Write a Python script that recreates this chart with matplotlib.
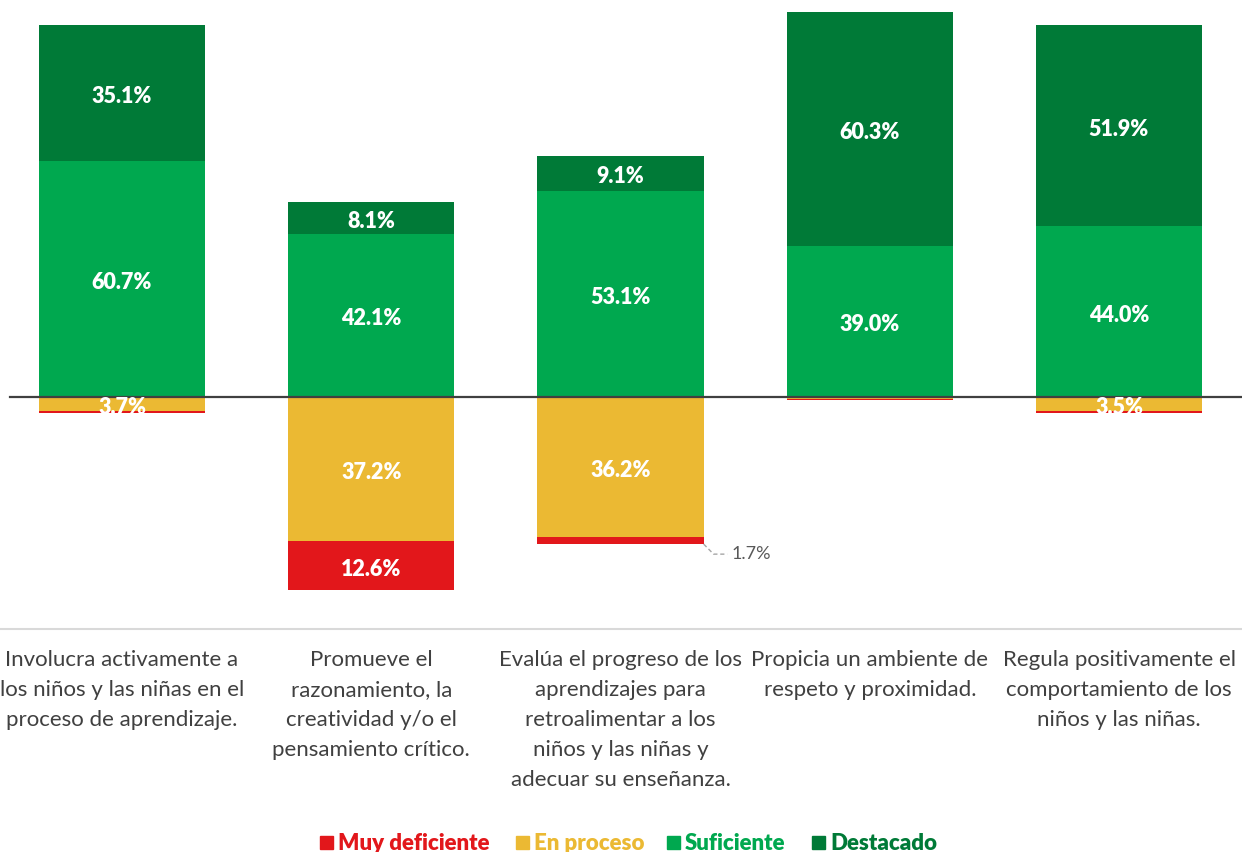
import numpy as np
import matplotlib.pyplot as plt
from matplotlib.lines import Line2D
from matplotlib.patches import Rectangle

categorias = ["Involucra activamente a\nlos niños y las niñas en el\nproceso de aprendizaje.",
              "Promueve el\nrazonamiento, la\ncreatividad y/o el\npensamiento crítico.",
              "Evalúa el progreso de los\naprendizajes para\nretroalimentar a los\nniños y las niñas y\nadecuar su enseñanza.",
              "Propicia un ambiente de\nrespeto y proximidad.",
              "Regula positivamente el\ncomportamiento de los\nniños y las niñas."]
muy_deficiente = [0.5, 12.6, 1.7, 0.2, 0.6]
en_proceso = [3.7, 37.2, 36.2, 0.5, 3.5]
suficiente = [60.7, 42.1, 53.1, 39.0, 44.0]
destacado = [35.1, 8.1, 9.1, 60.3, 51.9]

c_rojo = "#E2171B"
c_amar = "#EBB933"
c_verde = "#00A84F"
c_oscuro = "#007A37"

plt.rcParams['font.family'] = ['Lato', 'DejaVu Sans']

fig = plt.figure(figsize=(12.42, 8.52), dpi=100)
ax = fig.add_axes([-2.6 / 1242, 1 - 600 / 852, 1246.2 / 1242, 595 / 852])

x = np.arange(len(categorias))
w = 0.667
md = np.array(muy_deficiente)
ep = np.array(en_proceso)
su = np.array(suficiente)
de = np.array(destacado)

ax.bar(x, su, w, color=c_verde)
ax.bar(x, de, w, bottom=su, color=c_oscuro)
ax.bar(x, -ep, w, color=c_amar)
ax.bar(x, -md, w, bottom=-ep, color=c_rojo)

lbl = dict(ha="center", va="center", color="white", fontsize=15.5, fontweight="heavy")
dy = 0.9  # pequeño ajuste vertical de las etiquetas
for i in range(len(x)):
    ax.text(x[i], su[i] / 2 - dy, f"{su[i]:.1f}%", **lbl)
    ax.text(x[i], su[i] + de[i] / 2 - dy, f"{de[i]:.1f}%", **lbl)
    if ep[i] >= 3:
        ax.text(x[i], -ep[i] / 2 - 0.9, f"{ep[i]:.1f}%", **lbl)
    if md[i] >= 5:
        ax.text(x[i], -ep[i] - md[i] / 2 - dy, f"{md[i]:.1f}%", **lbl)

# etiqueta externa de 1.7%
i = 2
y0 = -ep[i] - md[i]
ax.plot([x[i] + w / 2, x[i] + w / 2 + 0.04, x[i] + w / 2 + 0.095],
        [y0, y0 - 2.6, y0 - 2.6], color="#a6a6a6", lw=1, ls=(0, (3, 2)))
ax.text(x[i] + w / 2 + 0.11, y0 - 2.6, f"{md[i]:.1f}%", ha="left", va="center",
        color="#595959", fontsize=13)

ax.axhline(0, xmin=12.6 / 1246.2, xmax=1, color="#404040", lw=1.6)
ax.set_xlim(-0.5, 4.5)
ax.set_ylim(-(600 - 397) / 3.88, (397 - 5) / 3.88)
ax.axis("off")

fig.add_artist(Line2D([0, 1], [1 - 629 / 852, 1 - 629 / 852], color="#d9d9d9", lw=1.5))

for i, c in enumerate(categorias):
    xf = (122 + 249.3 * i) / 1242
    fig.text(xf, 1 - 650 / 852, c, ha="center", va="top", fontsize=16,
             color="#404040", linespacing=1.62)

# leyenda
items = [("Muy deficiente", c_rojo, 320), ("En proceso", c_amar, 516),
         ("Suficiente", c_verde, 667), ("Destacado", c_oscuro, 812)]
yl = 1 - 843 / 852
for t, c, px in items:
    fig.add_artist(Rectangle((px / 1242, yl - 6 / 852), 13 / 1242, 13 / 852,
                             color=c, transform=fig.transFigure))
    fig.text((px + 18) / 1242, yl, t, ha="left", va="center", fontsize=16,
             fontweight="heavy", color=c)

plt.savefig("out.png", dpi=100)
